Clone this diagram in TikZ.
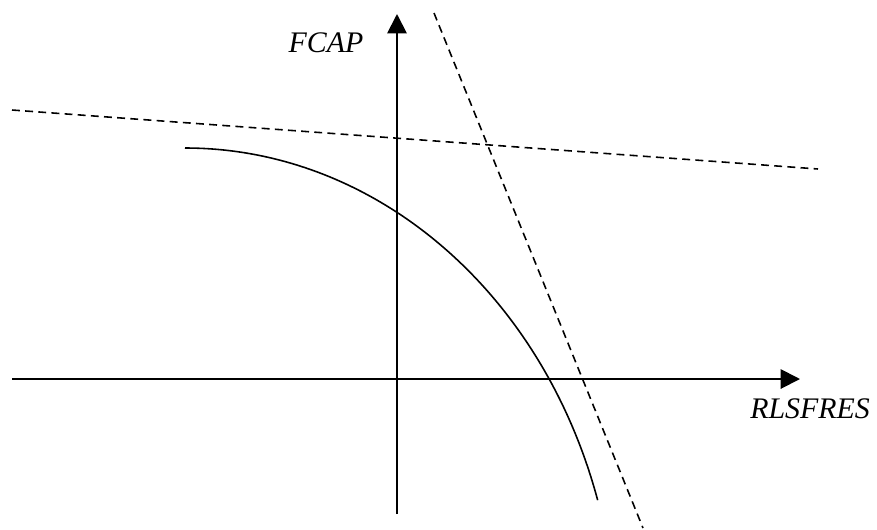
\documentclass[tikz,border=0pt]{standalone}
\usepackage{fontspec}
\setmainfont{Liberation Serif}
\usetikzlibrary{positioning,arrows.meta}

\begin{document}
\begin{tikzpicture}[
    x=0.02cm,
    y=-0.02cm,
    axis/.style={
        line width=1.1pt,
        -{Triangle[length=11pt,width=11pt]}
    },
    guide/.style={
        line width=0.9pt,
        dash pattern=on 4.5pt off 3pt
    },
    frontier/.style={
        line width=0.9pt
    },
    axislabel/.style={
        font=\fontsize{17}{20}\selectfont\itshape,
        inner sep=0pt
    }
]
\useasboundingbox (0,0) rectangle (877,529);

% Axis end points
\coordinate (xstart) at (12,379);
\coordinate (xend)   at (800,379);
\coordinate (ystart) at (397,514);
\coordinate (yend)   at (397,14);

% Axes
\draw[axis] (xstart) -- (xend);
\draw[axis] (ystart) -- (yend);

% Axis labels
\node[axislabel] (fcap)    at (326,43)  {FCAP};
\node[axislabel] (rlsfres) at (810,409) {RLSFRES};

% Flat dashed line
\coordinate (flatA) at (12,110);
\coordinate (flatB) at (818,169);
\draw[guide] (flatA) -- (flatB);

% Steep dashed line
\coordinate (steepA) at (434,13);
\coordinate (steepB) at (643,528);
\draw[guide] (steepA) -- (steepB);

% The curve
\coordinate (curvetop) at (185,148);
\draw[frontier] (curvetop) arc[start angle=270, end angle=342.8, x radius=432, y radius=500];
\end{tikzpicture}
\end{document}
